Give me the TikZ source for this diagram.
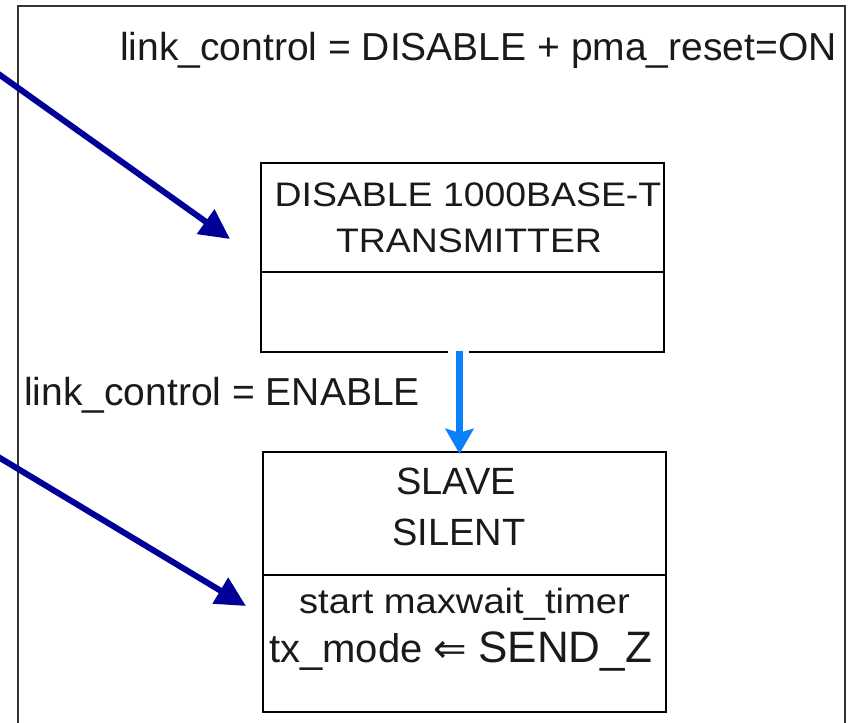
\documentclass[tikz,border=0pt]{standalone}
\usepackage{fontspec}
\usepackage{graphicx}
\setmainfont{Liberation Sans}
\newfontfamily\arrowglyphs{DejaVu Sans}
\usetikzlibrary{arrows.meta}

\definecolor{navyarrow}{HTML}{000099}
\definecolor{flowblue}{HTML}{0A80FA}
\definecolor{inkgray}{HTML}{1A1A1A}
\definecolor{framegray}{HTML}{333333}

\begin{document}
\begin{tikzpicture}[x=1pt,y=-1pt,
  statepart/.style={draw=black, line width=2.4pt, minimum width=403pt,
    inner sep=0pt, anchor=center},
  lbl/.style={text=inkgray, inner sep=0pt, font=\fontsize{39}{46}\selectfont},
  headtxt/.style={text=inkgray, inner sep=0pt, anchor=base, font=\fontsize{34}{40}\selectfont},
  slavetxt/.style={text=inkgray, inner sep=0pt, anchor=base, font=\fontsize{38}{44}\selectfont},
  pointer/.style={draw=navyarrow, line width=6pt,
    -{Triangle[length=30pt,width=29pt]}},
  flow/.style={draw=flowblue, line width=7pt,
    -{Stealth[length=25pt,width=28pt,inset=4pt]}}]

\useasboundingbox (0,0) rectangle (853,722);
\clip (0,0) rectangle (853,722);

% enclosing frame, open at the bottom
\draw[framegray, line width=2.5pt] (18,740) -- (18,6) -- (845,6) -- (845,740);

% entry condition
\node[lbl, anchor=base west] (entrycond) at (120,61)
  {link\_control = DISABLE + pma\_reset=ON};

% state: DISABLE 1000BASE-T TRANSMITTER
\node[statepart, minimum height=109pt] (txoffHead) at (462.5,217.5) {};
\node[statepart, minimum height=80pt]  (txoffBody) at (462.5,312) {};
\node[headtxt] (txoffL1) at (468,206) {\scalebox{1.1}[1]{DISABLE 1000BASE-T}};
\node[headtxt] (txoffL2) at (469,252) {\scalebox{1.1}[1]{TRANSMITTER}};

% state: SLAVE SILENT
\node[statepart, minimum height=123pt] (slaveHead) at (464.5,513.5) {};
\node[statepart, minimum height=137pt] (slaveBody) at (464.5,643.5) {};
\node[slavetxt] (slaveL1) at (456,494) {SLAVE};
\node[slavetxt] (slaveL2) at (459,545) {SILENT};
\node[text=inkgray, inner sep=0pt, anchor=base] (slaveAct1) at (464.5,613)
  {\fontsize{35}{40}\selectfont\scalebox{1.09}[1]{start maxwait\_timer}};
\node[text=inkgray, inner sep=0pt, anchor=base west] (slaveAct2) at (269,662)
  {\fontsize{40}{46}\selectfont tx\_mode {\arrowglyphs ⇐} \fontsize{44}{50}\selectfont SEND\_Z};

% transition label
\node[lbl, anchor=base west] (enablecond) at (24,405) {link\_control = ENABLE};

% transition between the two states
\draw[white, line width=4pt] ([xshift=-15pt]txoffBody.south) -- ([xshift=6pt]txoffBody.south);
\draw[flow] ([xshift=-3pt,yshift=2pt]txoffBody.south) -- ([xshift=-5pt,yshift=-3pt]slaveHead.north);

% call-out pointers entering from the left
\coordinate (srcA) at (-10,67.9);
\coordinate (tipA) at (230,239);
\coordinate (srcB) at (-10,452);
\coordinate (tipB) at (246,606);
\draw[pointer] (srcA) -- (tipA);
\draw[pointer] (srcB) -- (tipB);

\end{tikzpicture}
\end{document}
